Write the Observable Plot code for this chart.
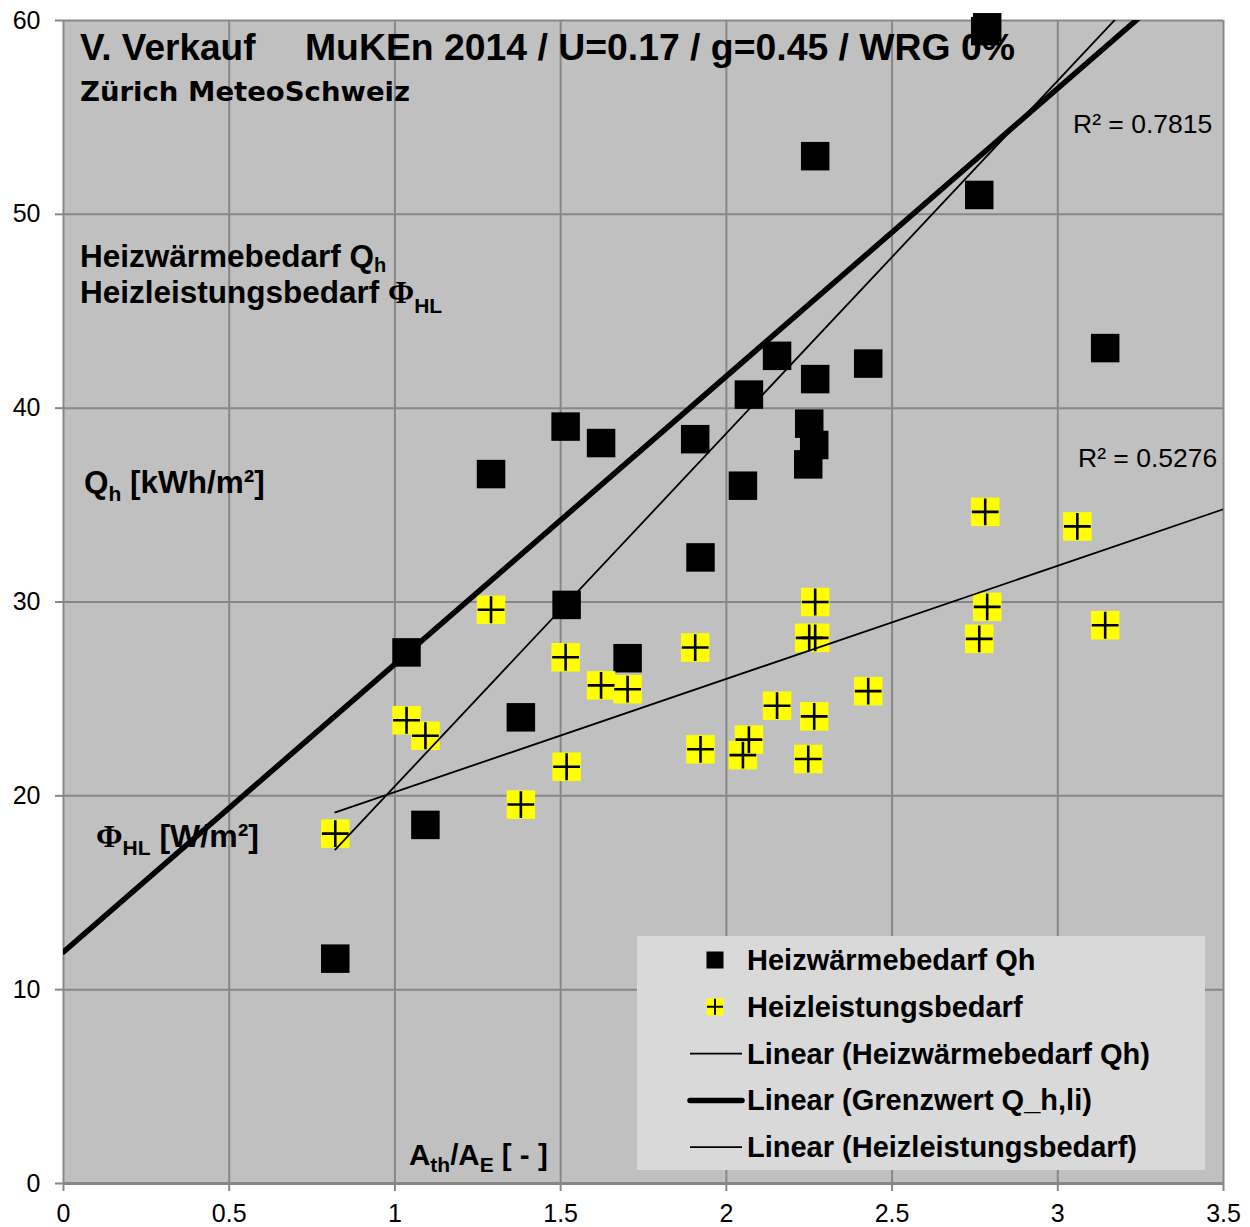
<!DOCTYPE html>
<html><head><meta charset="utf-8">
<script src="https://cdn.jsdelivr.net/npm/d3@7"></script>
<script src="https://cdn.jsdelivr.net/npm/@observablehq/plot@0.6"></script>
<style>
body{margin:0;background:#fff}
#chart{width:1250px;height:1227px}
</style>
</head><body><div id="chart"></div>
<script>
// ---- data ----
const qhRatio = [0.820, 1.035, 1.092, 1.290, 1.380, 1.515, 1.518, 1.622, 1.702, 1.906, 1.922, 2.050, 2.068, 2.153, 2.247, 2.250, 2.265, 2.268, 2.268, 2.428, 2.763, 2.781, 2.787, 3.143];
const qhValue = [11.6, 27.4, 18.5, 36.6, 24.05, 39.05, 29.85, 38.2, 27.1, 38.4, 32.3, 36.0, 40.7, 42.7, 37.1, 39.2, 38.1, 41.5, 53.0, 42.3, 51.0, 59.45, 59.65, 43.1];
const hlRatio = [0.820, 1.035, 1.092, 1.290, 1.380, 1.515, 1.518, 1.622, 1.702, 1.906, 1.922, 2.050, 2.068, 2.153, 2.247, 2.250, 2.265, 2.268, 2.268, 2.428, 2.763, 2.781, 2.787, 3.059, 3.143];
const hlValue = [18.05, 23.9, 23.1, 29.6, 19.55, 27.15, 21.5, 25.7, 25.5, 27.65, 22.4, 22.1, 22.9, 24.65, 21.9, 28.15, 24.1, 28.15, 30.0, 25.4, 28.1, 34.65, 29.75, 33.9, 28.8];
const xTicks = [0, 0.5, 1, 1.5, 2, 2.5, 3, 3.5];
const yTicks = [0, 10, 20, 30, 40, 50, 60];
const seriesNames = ["Heizwärmebedarf Qh", "Heizleistungsbedarf"];
const trendNames = ["Linear (Heizwärmebedarf Qh)", "Linear (Grenzwert Q_h,li)", "Linear (Heizleistungsbedarf)"];
const trendSlope = [18.2, 14.85, 5.836];
const trendIntercept = [2.30, 11.95, 14.36];
const trendFrom = [0.82, 0, 0.82];
const trendTo = [3.5, 3.5, 3.5];
const r2Labels = ["R² = 0.7815", "R² = 0.5276"];

// ---- derived tables ----
const qh = qhRatio.map((x, i) => ({x, y: qhValue[i]}));
const hl = hlRatio.map((x, i) => ({x, y: hlValue[i]}));
const trends = trendNames.map((name, i) => [trendFrom[i], trendTo[i]].map(x => ({name, x, y: trendIntercept[i] + trendSlope[i] * x})));

const thinPlus = {
  draw(ctx, size) {
    const s = Math.sqrt(size) / 2 * 0.94;
    ctx.moveTo(-s, 0); ctx.lineTo(s, 0);
    ctx.moveTo(0, -s); ctx.lineTo(0, s);
  }
};

const GRID = "#878787";
const R = 28.5 / Math.sqrt(Math.PI);

const plot = Plot.plot({
  width: 1250, height: 1227,
  marginLeft: 63, marginRight: 27, marginTop: 20, marginBottom: 44,
  style: {fontFamily: "'Liberation Sans', Arial, sans-serif", fontSize: "25px", background: "white", color: "black"},
  x: {domain: [0, 3.5]},
  y: {domain: [0, 60]},
  marks: [
    Plot.frame({fill: "#c0c0c0", stroke: null}),
    Plot.gridX(xTicks, {stroke: GRID, strokeOpacity: 1, strokeWidth: 2}),
    Plot.gridY(yTicks, {stroke: GRID, strokeOpacity: 1, strokeWidth: 2}),
    Plot.ruleY([0], {stroke: GRID, strokeWidth: 3}),
    Plot.axisY({ticks: yTicks, tickSize: 8, tickPadding: 15, label: null, stroke: GRID, strokeWidth: 2, fill: "black", fontSize: 25, tickFormat: d => String(d)}),
    Plot.axisX({ticks: xTicks, tickSize: 8, tickPadding: 13, label: null, stroke: GRID, strokeWidth: 2, fill: "black", fontSize: 25, tickFormat: d => String(d)}),
    Plot.dot(qh, {x: "x", y: "y", r: R, symbol: "square", fill: "black", stroke: null}),
    Plot.dot(hl, {x: "x", y: "y", r: R, symbol: "square", fill: "#ffff00", stroke: null}),
    Plot.dot(hl, {x: "x", y: "y", r: R, symbol: thinPlus, fill: "none", stroke: "black", strokeWidth: 2.6}),
    Plot.line(trends[0], {x: "x", y: "y", stroke: "black", strokeWidth: 1.8, clip: true}),
    Plot.line(trends[1], {x: "x", y: "y", stroke: "black", strokeWidth: 5.5, clip: true}),
    Plot.line(trends[2], {x: "x", y: "y", stroke: "black", strokeWidth: 1.8, clip: true})
  ]
});
document.getElementById("chart").appendChild(plot);

// ---- annotations (below markers) ----
const svg = d3.select(plot);
const ann = svg.insert("g", 'g[aria-label="dot"]').attr("text-anchor", "start");
const SANS = "'Liberation Sans', Arial, sans-serif";
const SERIF = "'Liberation Serif', 'Times New Roman', serif";

function rich(g, x, y, size, parts, extra = {}) {
  const t = g.append("text").attr("x", x).attr("y", y).attr("text-anchor", "start")
    .attr("font-family", SANS).attr("font-weight", "bold").attr("font-size", size)
    .attr("fill", "black").style("white-space", "pre");
  for (const [k, v] of Object.entries(extra)) t.attr(k, v);
  let shift = 0;
  for (const p of parts) {
    const s = t.append("tspan").text(p.t);
    const target = p.sub || 0;
    if (target !== shift) { s.attr("dy", target - shift); shift = target; }
    if (p.size) s.attr("font-size", p.size);
    if (p.serif) s.attr("font-family", SERIF);
  }
  return t;
}

rich(ann, 80, 60, 37, [{t: "V. Verkauf"}]);
rich(ann, 305, 60, 37, [{t: "MuKEn 2014 / U=0.17 / g=0.45 / WRG 0%"}], {textLength: 710, lengthAdjust: "spacingAndGlyphs"});
ann.append("text").attr("x", 80).attr("y", 101).attr("text-anchor", "start").attr("font-family", "'DejaVu Sans', sans-serif")
  .attr("font-weight", 700).attr("font-size", 26.5).attr("fill", "black")
  .attr("textLength", 330).attr("lengthAdjust", "spacingAndGlyphs").text("Zürich MeteoSchweiz");

rich(ann, 80, 267, 31.5, [{t: "Heizwärmebedarf Q"}, {t: "h", sub: 5, size: 20}]);
rich(ann, 80, 303, 31.5, [{t: "Heizleistungsbedarf "}, {t: "Φ", serif: true}, {t: "HL", sub: 10, size: 21}]);
rich(ann, 84, 493, 31.5, [{t: "Q"}, {t: "h", sub: 8, size: 21}, {t: " [kWh/m²]", sub: 0}]);
rich(ann, 96, 847, 32, [{t: "Φ", serif: true}, {t: "HL", sub: 8, size: 21}, {t: " [W/m²]", sub: 0}]);
rich(ann, 409, 1165, 29.5, [{t: "A"}, {t: "th", sub: 7, size: 21}, {t: "/A", sub: 0}, {t: "E", sub: 7, size: 21}, {t: " [ - ]", sub: 0}]);

ann.append("text").attr("x", 1073).attr("y", 133).attr("text-anchor", "start").attr("font-family", SANS).attr("font-size", 26.5).attr("fill", "black").text(r2Labels[0]);
ann.append("text").attr("x", 1078).attr("y", 467).attr("text-anchor", "start").attr("font-family", SANS).attr("font-size", 26.5).attr("fill", "black").text(r2Labels[1]);

// ---- legend (on top) ----
const lg = svg.append("g").attr("text-anchor", "start");
lg.append("rect").attr("x", 637).attr("y", 936).attr("width", 568).attr("height", 234).attr("fill", "#d9d9d9");
const rows = [
  {label: seriesNames[0], kind: "square"},
  {label: seriesNames[1], kind: "plus"},
  {label: trendNames[0], kind: "line", w: 1.8},
  {label: trendNames[1], kind: "line", w: 5.5},
  {label: trendNames[2], kind: "line", w: 1.8}
];
rows.forEach((r, i) => {
  const cy = 960 + i * 46.8;
  if (r.kind === "square") {
    lg.append("rect").attr("x", 715 - 8.5).attr("y", cy - 8.5).attr("width", 17).attr("height", 17).attr("fill", "black");
  } else if (r.kind === "plus") {
    lg.append("rect").attr("x", 715 - 8.5).attr("y", cy - 8.5).attr("width", 17).attr("height", 17).attr("fill", "#ffff00");
    lg.append("path").attr("d", `M${715 - 8},${cy}H${715 + 8}M715,${cy - 8}V${cy + 8}`).attr("stroke", "black").attr("stroke-width", 2);
  } else {
    lg.append("line").attr("x1", 690).attr("x2", 742).attr("y1", cy).attr("y2", cy)
      .attr("stroke", "black").attr("stroke-width", r.w).attr("stroke-linecap", r.w > 3 ? "round" : "butt");
  }
  lg.append("text").attr("x", 747).attr("y", cy + 10).attr("text-anchor", "start").attr("font-family", SANS).attr("font-weight", "bold")
    .attr("font-size", 29).attr("fill", "black").text(r.label);
});
</script>
</body></html>
